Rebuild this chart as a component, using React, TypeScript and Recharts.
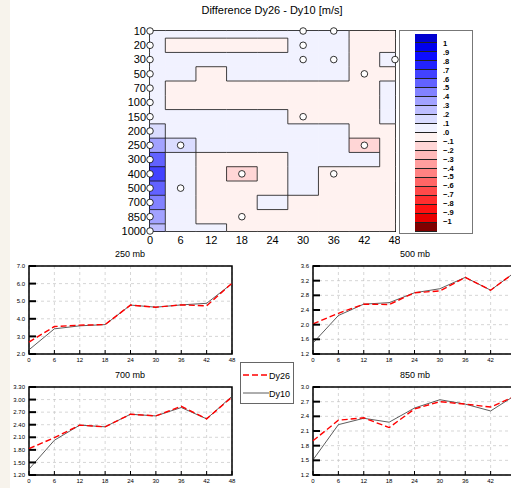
import React from 'react';
import {
  LineChart,
  Line,
  ScatterChart,
  Scatter,
  XAxis,
  YAxis,
  CartesianGrid,
  ReferenceArea,
} from 'recharts';

// forecast hours and pressure levels
const hours = [0, 6, 12, 18, 24, 30, 36, 42, 48];
const levels = ['10', '20', '30', '50', '70', '100', '150', '200', '250', '300', '400', '500', '700', '850', '1000'];

// difference Dy26 - Dy10, one row per level, one column per hour
const diffGrid = [
  [0.03, 0.03, 0.02, 0.02, 0.02, 0.02, 0.02, -0.03, -0.03],
  [0.03, -0.02, -0.03, -0.03, -0.02, 0.03, 0.02, -0.03, -0.03],
  [0.03, 0.03, 0.03, 0.03, 0.03, 0.03, 0.02, -0.03, 0.02],
  [0.03, 0.03, -0.02, 0.02, 0.02, 0.02, 0.01, -0.03, -0.03],
  [0.03, -0.03, -0.03, -0.03, -0.03, -0.03, -0.03, -0.03, 0.02],
  [0.03, -0.02, -0.03, -0.03, -0.03, -0.03, -0.03, -0.03, 0.02],
  [0.04, 0.03, 0.02, 0.02, 0.02, -0.03, -0.02, -0.03, 0.02],
  [0.12, 0.04, 0.03, 0.03, 0.03, 0.03, 0.03, -0.02, -0.03],
  [0.32, 0.11, 0.03, 0.03, 0.03, 0.03, 0.02, -0.15, -0.03],
  [0.52, 0.09, -0.02, -0.03, -0.02, 0.03, 0.02, 0.02, -0.02],
  [0.62, 0.08, -0.03, -0.15, -0.02, 0.02, -0.03, -0.03, -0.03],
  [0.56, 0.08, -0.02, -0.03, -0.02, 0.02, -0.02, -0.03, -0.03],
  [0.45, 0.07, -0.02, -0.03, 0.02, -0.02, -0.03, -0.03, -0.03],
  [0.32, 0.06, -0.02, -0.03, -0.03, -0.02, -0.02, -0.02, -0.02],
  [0.22, 0.05, 0.02, -0.02, -0.02, -0.02, -0.02, -0.02, -0.02],
];

// open circles: [hour, level index]
const markers = [
  [0, 0], [0, 1], [0, 2], [0, 3], [0, 4], [0, 5], [0, 6], [0, 7], [0, 8], [0, 9],
  [0, 10], [0, 11], [0, 12], [0, 13], [0, 14],
  [30, 0], [36, 0], [30, 1], [30, 2], [36, 2], [48, 2], [42, 3],
  [30, 6], [6, 8], [42, 8], [18, 10], [36, 10], [6, 11], [18, 13],
];

const colorLabels = ['1', '.9', '.8', '.7', '.6', '.5', '.4', '.3', '.2', '.1', '.0',
  '\u2212.1', '\u2212.2', '\u2212.3', '\u2212.4', '\u2212.5', '\u2212.6', '\u2212.7', '\u2212.8', '\u2212.9', '\u22121'];
const palette = [
  '#0000d0', '#0000ec', '#0c0cff', '#2222ff', '#4242ff', '#6262ff', '#8282ff', '#a2a2ff', '#bebeff', '#dadcff', '#f1f2ff',
  '#fff2f0', '#ffd6d6', '#ffbaba', '#ff9e9e', '#ff8282', '#ff6666', '#ff4a4a', '#ff2e2e', '#ff1212', '#e80000', '#800000',
];

// time series per level
const dy26_250 = [2.68, 3.56, 3.64, 3.67, 4.78, 4.66, 4.79, 4.74, 6.02];
const dy10_250 = [2.24, 3.43, 3.6, 3.67, 4.78, 4.66, 4.79, 4.88, 6.0];
const dy26_500 = [2.02, 2.31, 2.56, 2.55, 2.87, 2.92, 3.29, 2.94, 3.45];
const dy10_500 = [1.5, 2.25, 2.56, 2.6, 2.87, 2.98, 3.29, 2.94, 3.45];
const dy26_700 = [1.83, 2.09, 2.39, 2.35, 2.65, 2.61, 2.84, 2.54, 3.06];
const dy10_700 = [1.34, 2.03, 2.39, 2.35, 2.65, 2.61, 2.81, 2.54, 3.08];
const dy26_850 = [1.9, 2.32, 2.37, 2.17, 2.55, 2.7, 2.65, 2.59, 2.82];
const dy10_850 = [1.51, 2.23, 2.36, 2.28, 2.57, 2.74, 2.65, 2.51, 2.84];

const FONT = '"Liberation Sans", Arial, sans-serif';

const colorIndex = (v: number) => {
  if (v >= 0) return 10 - Math.min(10, Math.floor(v * 10));
  return 11 + Math.min(10, Math.floor(-v * 10));
};

const heatData = diffGrid.flatMap((row, li) => row.map((v, hi) => ({ x: hours[hi], y: li, hi, v })));
const markerData = markers.map(([x, y]) => ({ x, y }));

// half cell size in pixels (plot is 245 x 200)
const HALF_W = 245 / 16;
const HALF_H = 200 / 28;

const cellBox = (cx: number, cy: number, hi: number, li: number) => ({
  x0: hi === 0 ? cx : cx - HALF_W,
  x1: hi === hours.length - 1 ? cx : cx + HALF_W,
  y0: li === 0 ? cy : cy - HALF_H,
  y1: li === levels.length - 1 ? cy : cy + HALF_H,
});

const HeatCell = (props: any) => {
  const { cx, cy, payload } = props;
  const { x0, x1, y0, y1 } = cellBox(cx, cy, payload.hi, payload.y);
  const c = palette[colorIndex(payload.v)];
  return <rect x={x0} y={y0} width={x1 - x0} height={y1 - y0} fill={c} stroke={c} strokeWidth={0.5} />;
};

// boundary lines between cells of different colour class
const EdgeCell = (props: any) => {
  const { cx, cy, payload } = props;
  const { hi, y: li, v } = payload;
  const { x0, x1, y0, y1 } = cellBox(cx, cy, hi, li);
  const k = colorIndex(v);
  const right = hi < hours.length - 1 && colorIndex(diffGrid[li][hi + 1]) !== k;
  const below = li < levels.length - 1 && colorIndex(diffGrid[li + 1][hi]) !== k;
  return (
    <g>
      {right && <line x1={x1} y1={y0} x2={x1} y2={y1} stroke="#111" strokeWidth={0.8} />}
      {below && <line x1={x0} y1={y1} x2={x1} y2={y1} stroke="#111" strokeWidth={0.8} />}
    </g>
  );
};

const Ring = (props: any) => (
  <circle cx={props.cx} cy={props.cy} r={3.3} fill="#fff" stroke="#000" strokeWidth={0.8} />
);

const Empty = () => <g />;

const ContourPanel = () => (
  <ScatterChart width={300} height={255} margin={{ top: 31, right: 5, left: 0, bottom: 0 }}>
    <Scatter data={heatData} shape={<HeatCell />} isAnimationActive={false} />
    <Scatter data={heatData} shape={<EdgeCell />} isAnimationActive={false} />
    <XAxis
      type="number"
      dataKey="x"
      domain={[0, 48]}
      ticks={hours}
      height={24}
      axisLine={false}
      tickSize={-4}
      tickMargin={9}
      tickLine={{ stroke: '#000', strokeWidth: 1.2 }}
      tick={{ fill: '#000', fontSize: 11, fontFamily: FONT }}
    />
    <XAxis xAxisId="top" orientation="top" type="number" domain={[0, 48]} ticks={hours} height={0}
      axisLine={false} tickSize={-4} tickLine={{ stroke: '#000', strokeWidth: 1.2 }} tick={<Empty />} />
    <YAxis
      type="number"
      dataKey="y"
      domain={[0, 14]}
      reversed
      ticks={levels.map((_, i) => i)}
      interval={0}
      tickFormatter={(i: number) => levels[i]}
      width={50}
      axisLine={false}
      tickSize={-7}
      tickMargin={11}
      tickLine={{ stroke: '#000', strokeWidth: 2 }}
      tick={{ fill: '#000', fontSize: 11, fontFamily: FONT }}
    />
    <YAxis yAxisId="right" orientation="right" type="number" domain={[0, 14]} reversed width={0}
      ticks={levels.map((_, i) => i)} interval={0} axisLine={false} tickSize={-7}
      tickLine={{ stroke: '#000', strokeWidth: 2 }} tick={<Empty />} />
    <Scatter data={markerData} shape={<Ring />} isAnimationActive={false} />
    <ReferenceArea x1={0} x2={48} y1={0} y2={14} fill="none" stroke="#000" strokeWidth={2} />
  </ScatterChart>
);

interface PanelProps {
  dy26: number[];
  dy10: number[];
  yTicks: number[];
  digits: number;
  cutRight?: boolean;
}

const LevelPanel: React.FC<PanelProps> = ({ dy26, dy10, yTicks, digits, cutRight }) => {
  const data = hours.map((h, i) => ({ h, dy26: dy26[i], dy10: dy10[i] }));
  const lo = yTicks[0];
  const hi = yTicks[yTicks.length - 1];
  return (
    <LineChart width={240} height={130} data={data} margin={{ top: 22, right: 8, left: 0, bottom: 0 }}>
      <CartesianGrid stroke="#c4c4c4" strokeDasharray="3 3" strokeWidth={0.7} />
      <XAxis
        dataKey="h"
        type="number"
        domain={[0, 48]}
        ticks={hours}
        height={20}
        axisLine={false}
        tickSize={-4}
        tickMargin={8}
        tickLine={{ stroke: '#000', strokeWidth: 1 }}
        tickFormatter={(v: number) => (cutRight && v === 48 ? '' : String(v))}
        tick={{ fill: '#000', fontSize: 6, fontFamily: FONT }}
      />
      <YAxis
        type="number"
        domain={[lo, hi]}
        ticks={yTicks}
        interval={0}
        width={29}
        axisLine={false}
        tickSize={-7}
        tickMargin={11}
        tickLine={{ stroke: '#000', strokeWidth: 2 }}
        tickFormatter={(v: number) => v.toFixed(digits)}
        tick={{ fill: '#000', fontSize: 6, fontFamily: FONT }}
      />
      <Line type="linear" dataKey="dy10" stroke="#333" strokeWidth={0.8} dot={false} isAnimationActive={false} />
      <Line type="linear" dataKey="dy26" stroke="#ff0000" strokeWidth={1.4} strokeDasharray="6 3" dot={false} isAnimationActive={false} />
      <ReferenceArea x1={0} x2={48} y1={lo} y2={hi} fill="none" stroke="#000" strokeWidth={1.5} />
    </LineChart>
  );
};

const Title: React.FC<{ text: string; x: number; y: number; size: number }> = ({ text, x, y, size }) => (
  <div style={{ position: 'absolute', left: x - 100, top: y, width: 200, textAlign: 'center', fontSize: size, fontFamily: FONT, color: '#000', lineHeight: 1 }}>
    {text}
  </div>
);

const ColorBar = () => (
  <div style={{ position: 'absolute', left: 399, top: 30, width: 72, height: 202, border: '1px solid #777', background: '#fff' }}>
    <div style={{ position: 'absolute', left: 15, top: 3, width: 22 }}>
      {palette.map((c, i) => (
        <div key={i} style={{ height: 8, background: c, borderBottom: '0.9px solid #222' }} />
      ))}
    </div>
    {colorLabels.map((t, i) => (
      <div key={t} style={{ position: 'absolute', left: 43, top: 3 + (i + 1) * 8.9 - 3, fontSize: 7.5, fontWeight: 'bold', fontFamily: FONT, lineHeight: 1 }}>
        {t}
      </div>
    ))}
  </div>
);

const LegendBox = () => (
  <div style={{ position: 'absolute', left: 240, top: 362, width: 52, height: 40, border: '1px solid #666', background: '#fff', fontFamily: FONT, fontSize: 9 }}>
    <svg width={52} height={40} style={{ position: 'absolute', left: 0, top: 0 }}>
      <line x1={2} y1={12} x2={28} y2={12} stroke="#ff0000" strokeWidth={1.4} strokeDasharray="6 3" />
      <line x1={2} y1={30} x2={28} y2={30} stroke="#333" strokeWidth={0.8} />
      <text x={28} y={15.5} fontSize={9} fontFamily={FONT}>Dy26</text>
      <text x={28} y={33.5} fontSize={9} fontFamily={FONT}>Dy10</text>
    </svg>
  </div>
);

export default function App() {
  return (
    <div style={{ position: 'absolute', left: 0, top: 0, width: 511, height: 488, overflow: 'hidden', background: '#fff' }}>
      <div style={{ position: 'absolute', left: 0, top: 0, width: 10, height: 488, background: '#f7f3ec' }} />
      <Title text="Difference Dy26 - Dy10 [m/s]" x={272} y={5} size={11} />
      <div style={{ position: 'absolute', left: 100, top: 0 }}>
        <ContourPanel />
      </div>
      <ColorBar />

      <Title text="250 mb" x={130} y={250} size={9} />
      <div style={{ position: 'absolute', left: 0, top: 244 }}>
        <LevelPanel dy26={dy26_250} dy10={dy10_250} yTicks={[2, 3, 4, 5, 6, 7]} digits={1} />
      </div>
      <Title text="500 mb" x={415} y={250} size={9} />
      <div style={{ position: 'absolute', left: 284, top: 244 }}>
        <LevelPanel dy26={dy26_500} dy10={dy10_500} yTicks={[1.2, 1.6, 2.0, 2.4, 2.8, 3.2, 3.6]} digits={1} cutRight />
      </div>
      <Title text="700 mb" x={130} y={371} size={9} />
      <div style={{ position: 'absolute', left: 0, top: 365 }}>
        <LevelPanel dy26={dy26_700} dy10={dy10_700} yTicks={[1.2, 1.5, 1.8, 2.1, 2.4, 2.7, 3.0, 3.3]} digits={2} />
      </div>
      <Title text="850 mb" x={415} y={371} size={9} />
      <div style={{ position: 'absolute', left: 284, top: 365 }}>
        <LevelPanel dy26={dy26_850} dy10={dy10_850} yTicks={[1.2, 1.5, 1.8, 2.1, 2.4, 2.7, 3.0]} digits={1} cutRight />
      </div>
      <LegendBox />
    </div>
  );
}
